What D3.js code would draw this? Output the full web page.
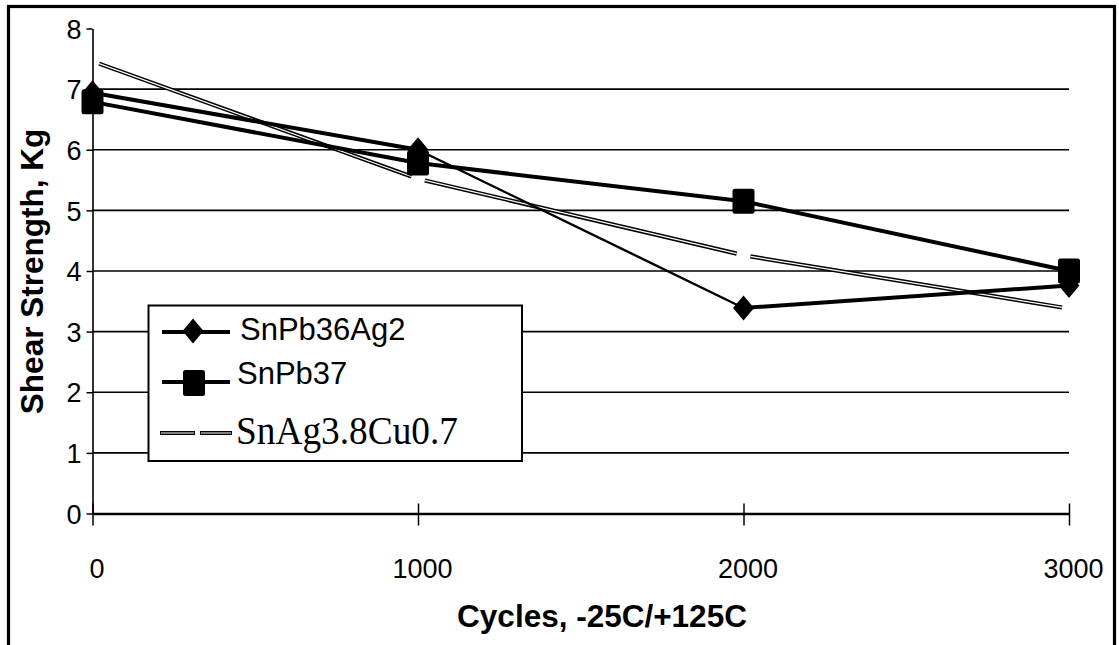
<!DOCTYPE html>
<html>
<head>
<meta charset="utf-8">
<script src="https://cdn.jsdelivr.net/npm/d3@7"></script>
<style>
  html, body { margin: 0; padding: 0; background: #fff; }
  svg { display: block; }
  text { font-family: "Liberation Sans", Arial, sans-serif; fill: #000; }
</style>
</head>
<body>
<svg id="chart" width="1119" height="645"></svg>
<script>
// ---- data ----
const cycles = [0, 1000, 2000, 3000];
const snPb36Ag2 = [6.94, 6.0, 3.39, 3.76];
const snPb37 = [6.79, 5.78, 5.15, 4.0];
const snAg38Cu07 = [7.46, 5.52, 4.26, 3.38];
const yTickValues = [0, 1, 2, 3, 4, 5, 6, 7, 8];
const gridValues = [1, 2, 3, 4, 5, 6, 7];
const seriesNames = ["SnPb36Ag2", "SnPb37", "SnAg3.8Cu0.7"];
const xTitle = "Cycles, -25C/+125C";
const yTitle = "Shear Strength, Kg";

// ---- layout ----
const svg = d3.select("#chart");
const x = d3.scaleLinear().domain([0, 3000]).range([92.5, 1069]);
const y = d3.scaleLinear().domain([0, 8]).range([513.5, 28.5]);

// outer frame
svg.append("rect").attr("x", 8.5).attr("y", 6.5).attr("width", 1106).attr("height", 700)
  .attr("fill", "#fff").attr("stroke", "#000").attr("stroke-width", 3.2);

// gridlines
svg.append("g").selectAll("line").data(gridValues).join("line")
  .attr("x1", x(0)).attr("x2", x(3000))
  .attr("y1", d => y(d)).attr("y2", d => y(d))
  .attr("stroke", "#000").attr("stroke-width", 1.6);

// y axis
const yAxis = svg.append("g").attr("transform", `translate(${x(0)},0)`)
  .call(d3.axisLeft(y).tickValues(yTickValues).tickSize(6).tickSizeOuter(0).tickPadding(5));
yAxis.attr("font-size", null).attr("font-family", null);
yAxis.select(".domain").attr("stroke", "#000").attr("stroke-width", 1.6);
yAxis.selectAll(".tick line").attr("stroke", "#000").attr("stroke-width", 1.5);
yAxis.selectAll(".tick text").style("font-size", "27px")
  .attr("x", -11).attr("dy", "0.36em");

// x axis
const xAxis = svg.append("g").attr("transform", `translate(0,${y(0)})`)
  .call(d3.axisBottom(x).tickValues(cycles).tickSize(12).tickSizeOuter(0).tickFormat(d3.format("d")));
xAxis.attr("font-size", null).attr("font-family", null);
xAxis.select(".domain").attr("stroke", "#000").attr("stroke-width", 2.6);
xAxis.selectAll(".tick line").attr("y1", -10).attr("y2", 12).attr("stroke", "#000").attr("stroke-width", 1.5);
xAxis.selectAll(".tick text").style("font-size", "27px")
  .attr("y", 64).attr("dy", 0).attr("dx", 4);

// axis titles
svg.append("text").attr("x", 602).attr("y", 627).attr("text-anchor", "middle")
  .style("font-size", "31.5px").attr("font-weight", "bold").text(xTitle);
svg.append("text").attr("transform", `translate(43,271.5) rotate(-90)`).attr("text-anchor", "middle")
  .style("font-size", "31.5px").attr("font-weight", "bold").text(yTitle);

// ---- series ----
function pts(vals) { return vals.map((v, i) => [x(cycles[i]), y(v)]); }

// SnAg3.8Cu0.7 : double line, broken around each data point
const agSegs = d3.pairs(pts(snAg38Cu07)).map(([a, b]) => {
  const dx = b[0] - a[0], dy = b[1] - a[1], L = Math.hypot(dx, dy), g = 7;
  return [[a[0] + dx * g / L, a[1] + dy * g / L], [b[0] - dx * g / L, b[1] - dy * g / L]];
});
const agG = svg.append("g");
agG.selectAll("line.o").data(agSegs).join("line").attr("class", "o")
  .attr("x1", d => d[0][0]).attr("y1", d => d[0][1]).attr("x2", d => d[1][0]).attr("y2", d => d[1][1])
  .attr("stroke", "#000").attr("stroke-width", 4.2);
agG.selectAll("line.i").data(agSegs).join("line").attr("class", "i")
  .attr("x1", d => d[0][0]).attr("y1", d => d[0][1]).attr("x2", d => d[1][0]).attr("y2", d => d[1][1])
  .attr("stroke", "#fff").attr("stroke-width", 1.2);

// SnPb37 : thick line with squares
const line = d3.line();
svg.append("path").attr("d", line(pts(snPb37))).attr("fill", "none")
  .attr("stroke", "#000").attr("stroke-width", 4).attr("stroke-linejoin", "round");

// SnPb36Ag2 : line with diamonds (middle segment thinner)
const dSegWidths = [4, 2.4, 4];
svg.append("g").selectAll("line").data(d3.pairs(pts(snPb36Ag2))).join("line")
  .attr("x1", d => d[0][0]).attr("y1", d => d[0][1]).attr("x2", d => d[1][0]).attr("y2", d => d[1][1])
  .attr("stroke", "#000").attr("stroke-width", (d, i) => dSegWidths[i]).attr("stroke-linecap", "round");

// markers
function diamond(cx, cy) {
  const w = 10.5, h = 12.5;
  return `M${cx},${cy - h}L${cx + w},${cy}L${cx},${cy + h}L${cx - w},${cy}Z`;
}
svg.append("g").selectAll("rect").data(pts(snPb37)).join("rect")
  .attr("x", d => d[0] - 11).attr("y", d => d[1] - 12.5).attr("width", 22).attr("height", 25)
  .attr("rx", 2.5).attr("fill", "#000");
svg.append("g").selectAll("path").data(pts(snPb36Ag2)).join("path")
  .attr("d", d => diamond(d[0], d[1])).attr("fill", "#000");

// ---- legend ----
const lg = svg.append("g");
lg.append("rect").attr("x", 148.5).attr("y", 305.5).attr("width", 373.5).attr("height", 155.5)
  .attr("fill", "#fff").attr("stroke", "#000").attr("stroke-width", 2);

// row 1
lg.append("line").attr("x1", 162).attr("x2", 230).attr("y1", 332).attr("y2", 332)
  .attr("stroke", "#000").attr("stroke-width", 4);
lg.append("path").attr("d", diamond(193, 331)).attr("fill", "#000");
lg.append("text").attr("x", 240).attr("y", 339.5).style("font-size", "31px").text(seriesNames[0]);

// row 2
lg.append("line").attr("x1", 162).attr("x2", 230).attr("y1", 382).attr("y2", 382)
  .attr("stroke", "#000").attr("stroke-width", 4);
lg.append("rect").attr("x", 183).attr("y", 370).attr("width", 22).attr("height", 26)
  .attr("rx", 2.5).attr("fill", "#000");
lg.append("text").attr("x", 237).attr("y", 384).style("font-size", "31px").text(seriesNames[1]);

// row 3
const legDashes = [[160, 195], [200, 232]];
lg.selectAll("line.lo").data(legDashes).join("line").attr("class", "lo")
  .attr("x1", d => d[0]).attr("x2", d => d[1]).attr("y1", 433).attr("y2", 433)
  .attr("stroke", "#000").attr("stroke-width", 4);
lg.selectAll("line.li").data(legDashes).join("line").attr("class", "li")
  .attr("x1", d => d[0] + 1).attr("x2", d => d[1] - 1).attr("y1", 433).attr("y2", 433)
  .attr("stroke", "#fff").attr("stroke-width", 1);
lg.append("text").attr("x", 236).attr("y", 444).style("font-size", "39px")
  .style("font-family", "'Liberation Serif', 'Times New Roman', serif")
  .attr("textLength", 222).attr("lengthAdjust", "spacingAndGlyphs").text(seriesNames[2]);
</script>
</body>
</html>
